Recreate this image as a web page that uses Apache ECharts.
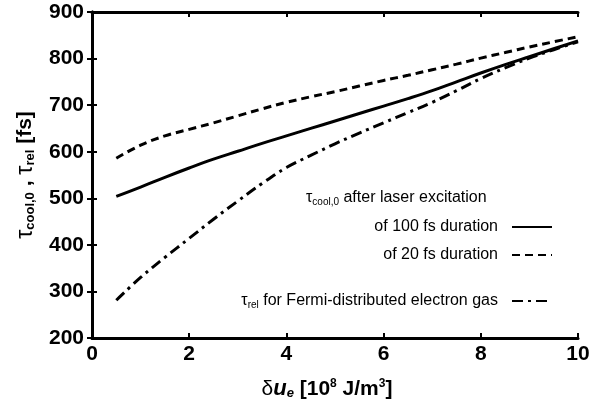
<!DOCTYPE html>
<html>
<head>
<meta charset="utf-8">
<script src="https://cdn.jsdelivr.net/npm/echarts@6/dist/echarts.min.js"></script>
<style>
  html, body { margin: 0; padding: 0; background: #fff; }
  #chart { width: 608px; height: 407px; }
</style>
</head>
<body>
<div id="chart"></div>
<script>
// energy density (10^8 J/m^3)
const energy = [0.5, 1, 1.5, 2, 2.5, 3, 3.5, 4, 4.5, 5, 5.5, 6, 6.5, 7, 7.5, 8, 8.5, 9, 9.5, 10];
// tau_cool,0 after 100 fs excitation
const cool100 = [504, 524, 545, 565, 584, 601, 618, 634, 650, 666, 682, 698, 714, 731, 750, 769, 787, 804, 821, 838];
// tau_cool,0 after 20 fs excitation
const cool20 = [586, 614, 634, 648, 662, 677, 692, 706, 718, 729, 741, 753, 764, 776, 788, 801, 813, 825, 836, 847];
// tau_rel, Fermi-distributed electron gas
const relFermi = [281, 330, 373, 414, 455, 494, 532, 566, 592, 617, 640, 662, 684, 706, 731, 757, 780, 801, 819, 836];

const xTicks = [0, 2, 4, 6, 8, 10];
const yTicks = [200, 300, 400, 500, 600, 700, 800, 900];

function pairs(ys) {
    let out = [];
    for (let i = 0; i < energy.length; i++) {
        out.push([energy[i], ys[i]]);
    }
    return out;
}

const fontFamily = '"Liberation Sans", Arial, sans-serif';
const tickLabel = { fontFamily: fontFamily, fontWeight: 'bold', fontSize: 21, color: '#000' };
const tauRich = {
    t: { fontFamily: fontFamily, fontSize: 16, color: '#000' },
    s: { fontFamily: fontFamily, fontSize: 10, color: '#000', padding: [8, 0, 0, 0] },
    n: { fontFamily: fontFamily, fontSize: 16, color: '#000' }
};

let myChart = echarts.init(document.getElementById('chart'));

let option = {
    animation: false,
    backgroundColor: '#fff',
    grid: { left: 92, right: 30, top: 12, bottom: 69 },
    title: {
        left: 301, top: 184,
        text: '{t|τ}{s|cool,0}{n| after laser excitation}',
        textStyle: { fontWeight: 'normal', rich: tauRich }
    },
    legend: [{
        data: ['of 100 fs duration', 'of 20 fs duration'],
        orient: 'vertical', right: 50, top: 214,
        align: 'right', itemWidth: 40, itemHeight: 14, itemGap: 12,
        itemStyle: { opacity: 0 },
        textStyle: { fontFamily: fontFamily, fontSize: 16, color: '#000', padding: [0, 9, 0, 0] }
    }, {
        data: ['τrel'],
        orient: 'vertical', right: 50, top: 288,
        align: 'right', itemWidth: 40, itemHeight: 14,
        itemStyle: { opacity: 0 },
        formatter: function () { return '{t|τ}{s|rel}{n| for Fermi-distributed electron gas}'; },
        textStyle: { padding: [0, 9, 0, 0], rich: tauRich }
    }],
    xAxis: [{
        type: 'value', min: 0, max: 10, interval: 2,
        axisLine: { lineStyle: { color: '#000', width: 3 } },
        axisTick: { inside: true, length: 5, lineStyle: { color: '#000', width: 2 } },
        axisLabel: Object.assign({ margin: 6, formatter: function (v) { return xTicks.indexOf(v) >= 0 ? String(v) : ''; } }, tickLabel),
        splitLine: { show: false },
        name: '{d|δ}{u|u}{e|e}{b| [10}{p|8}{b| J/m}{p|3}{b|]}',
        nameLocation: 'middle', nameGap: 40,
        nameTextStyle: {
            padding: [0, 16, 0, 0],
            rich: {
                d: { fontFamily: fontFamily, fontSize: 21, color: '#000' },
                u: { fontFamily: fontFamily, fontSize: 22, fontWeight: 'bold', fontStyle: 'italic', color: '#000' },
                e: { fontFamily: fontFamily, fontSize: 13, fontWeight: 'bold', fontStyle: 'italic', color: '#000', padding: [8, 0, 0, 0] },
                b: { fontFamily: fontFamily, fontSize: 21, fontWeight: 'bold', color: '#000' },
                p: { fontFamily: fontFamily, fontSize: 12, fontWeight: 'bold', color: '#000', padding: [0, 0, 10, 0] }
            }
        }
    }, {
        type: 'value', position: 'top', min: 0, max: 10, interval: 2,
        axisLine: { lineStyle: { color: '#000', width: 3 } },
        axisTick: { inside: true, length: 5, lineStyle: { color: '#000', width: 2 } },
        axisLabel: { show: false },
        splitLine: { show: false }
    }],
    yAxis: [{
        type: 'value', min: 200, max: 900, interval: 100,
        axisLine: { show: true, lineStyle: { color: '#000', width: 3 } },
        axisTick: { show: true, inside: true, length: 5, lineStyle: { color: '#000', width: 2 } },
        axisLabel: Object.assign({ margin: 8, formatter: function (v) { return yTicks.indexOf(v) >= 0 ? String(v) : ''; } }, tickLabel),
        splitLine: { show: false },
        name: '{t|τ}{s|cool,0}{b| , }{t|τ}{s|rel}{b| [fs]}',
        nameLocation: 'middle', nameGap: 55, nameRotate: 90,
        nameTextStyle: {
            rich: {
                t: { fontFamily: fontFamily, fontSize: 23, color: '#000' },
                s: { fontFamily: fontFamily, fontSize: 13, fontWeight: 'bold', color: '#000', padding: [10, 0, 0, 0] },
                b: { fontFamily: fontFamily, fontSize: 21, fontWeight: 'bold', color: '#000' }
            }
        }
    }, {
        type: 'value', position: 'right', min: 200, max: 900, interval: 100,
        axisLine: { show: true, lineStyle: { color: '#000', width: 3 } },
        axisTick: { show: true, inside: true, length: 5, lineStyle: { color: '#000', width: 2 } },
        axisLabel: { show: false },
        splitLine: { show: false }
    }],
    series: [{
        name: 'of 100 fs duration', type: 'line', smooth: 0.4, showSymbol: false, symbol: 'none',
        lineStyle: { color: '#000', width: 3, type: 'solid' },
        itemStyle: { color: '#000' },
        data: pairs(cool100)
    }, {
        name: 'of 20 fs duration', type: 'line', smooth: 0.4, showSymbol: false, symbol: 'none',
        lineStyle: { color: '#000', width: 3, type: [8, 5] },
        itemStyle: { color: '#000' },
        data: pairs(cool20)
    }, {
        name: 'τrel', type: 'line', smooth: 0.4, showSymbol: false, symbol: 'none',
        lineStyle: { color: '#000', width: 3, type: [11, 5, 3, 5] },
        itemStyle: { color: '#000' },
        data: pairs(relFermi)
    }]
};

myChart.setOption(option);
</script>
</body>
</html>
